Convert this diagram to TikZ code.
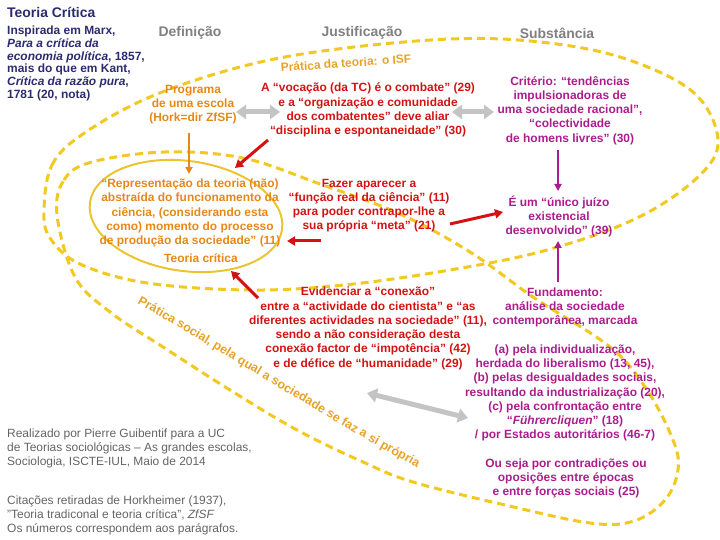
\documentclass[tikz,border=0pt]{standalone}
\usepackage{fontspec}
\setmainfont{Liberation Sans}
\usetikzlibrary{arrows.meta,decorations.text}
\definecolor{navy}{RGB}{43,43,112}
\definecolor{hgray}{RGB}{128,128,128}
\definecolor{orng}{RGB}{230,135,25}
\definecolor{gold}{RGB}{232,162,40}
\definecolor{rd}{RGB}{212,18,18}
\definecolor{mag}{RGB}{172,28,140}
\definecolor{yel}{RGB}{242,200,35}
\definecolor{yelsolid}{RGB}{236,196,50}
\definecolor{lgray}{RGB}{196,196,196}
\definecolor{notegray}{RGB}{100,100,100}
\begin{document}
\begin{tikzpicture}[x=1bp,y=-1bp,
  txt/.style={font=\fontsize{12}{14.3}\selectfont\bfseries, align=center, inner sep=0pt},
  head/.style={font=\fontsize{14}{16}\selectfont\bfseries, text=hgray, inner sep=0pt},
  redtxt/.style={txt, text=rd},
  magtxt/.style={txt, text=mag},
  orgtxt/.style={txt, text=orng},
  goldtxt/.style={txt, text=gold},
  notetxt/.style={font=\fontsize{12}{14}\selectfont, text=notegray, align=left, inner sep=0pt},
  loopline/.style={yel, line width=3bp, dash pattern=on 8bp off 5bp},
  grayarrow/.style={lgray, line width=5bp, {Triangle[length=10bp,width=14bp]}-{Triangle[length=10bp,width=14bp]}},
  redarrow/.style={rd, line width=3bp, -{Triangle[length=8bp,width=9bp]}},
  orgarrow/.style={orng, line width=2bp, -{Triangle[length=7bp,width=7bp]}},
  magarrow/.style={mag, line width=2bp, -{Triangle[length=7bp,width=7bp]}}
]
\useasboundingbox (0,0) rectangle (720,540);

% dashed loops
\draw[loopline] plot[smooth cycle, tension=0.6] coordinates {
  (44,210) (52,165) (83,134) (150,97) (240,67) (330,50) (450,39) (540,42)
  (623,58) (693,92) (718,140) (698,177) (637,218) (547,250) (450,270)
  (344,285) (250,290) (147,283) (80,264) (50,238)};
\draw[loopline] plot[smooth cycle, tension=0.6] coordinates {
  (57,215) (64,180) (92,162) (165,152) (243,158) (320,184) (400,214)
  (470,252) (533,297) (610,347) (647,390) (673,440) (678,470) (665,500)
  (634,521) (590,523) (505,505) (413,482) (363,462) (297,430) (230,390)
  (163,347) (110,312) (75,277)};

% solid ellipse
\draw[yelsolid, line width=2bp, rotate around={-8:(186,216)}] (186,216) ellipse [x radius=97, y radius=55];

% titles and left text
\node[font=\fontsize{14}{16}\selectfont\bfseries, text=navy, anchor=west, inner sep=0pt] (title) at (7,12) {Teoria Crítica};
\node[font=\fontsize{12}{12.7}\selectfont\bfseries, text=navy, anchor=west, align=left, inner sep=0pt] (insp) at (7,63.5)
  {Inspirada em Marx,\\ \textit{Para a crítica da}\\ \textit{economia política}, 1857,\\ mais do que em Kant,\\ \textit{Crítica da razão pura},\\ 1781 (20, nota)};

\node[head] (hdef) at (190,33) {Definição};
\node[head] (hjus) at (362,33) {Justificação};
\node[head] (hsub) at (557,33) {Substância};

\node[goldtxt, rotate=4] (pteo) at (346,63) {Prática da teoria: o ISF};

\node[orgtxt] (prog) at (193,104.5) {Programa\\ de uma escola\\ (Hork=dir ZfSF)};
\node[redtxt] (voc) at (368,110) {A “vocação (da TC) é o combate” (29)\\ e a “organização e comunidade\\ dos combatentes” deve aliar\\ “disciplina e espontaneidade” (30)};
\node[magtxt] (crit) at (570,110.5) {Critério: “tendências\\ impulsionadoras de\\ uma sociedade racional”,\\ “colectividade\\ de homens livres” (30)};

\node[orgtxt] (repr) at (190,213) {“Representação da teoria (não)\\ abstraída do funcionamento da\\ ciência, (considerando esta\\ como) momento do processo\\ de produção da sociedade” (11)};
\node[orgtxt] (tc) at (201,258) {Teoria crítica};
\node[redtxt] (faz) at (369,205.5) {Fazer aparecer a\\ “função real da ciência” (11)\\ para poder contrapor-lhe a\\ sua própria “meta” (21)};
\node[magtxt] (juizo) at (559,216.5) {É um “único juízo\\ existencial\\ desenvolvido” (39)};

\node[redtxt] (evid) at (368,328.5) {Evidenciar a “conexão”\\ entre a “actividade do cientista” e “as\\ diferentes actividades na sociedade” (11),\\ sendo a não consideração desta\\ conexão factor de “impotência” (42)\\ e de défice de “humanidade” (29)};
\node[magtxt] (fund) at (565,364.5) {Fundamento:\\ análise da sociedade\\ contemporânea, marcada\\[14.3bp] (a) pela individualização,\\ herdada do liberalismo (13, 45),\\ (b) pelas desigualdades sociais,\\ resultando da industrialização (20),\\ (c) pela confrontação entre\\ “\textit{Führercliquen}” (18)\\ / por Estados autoritários (46-7)};
\node[magtxt] (ouseja) at (566,478.5) {Ou seja por contradições ou\\ oposições entre épocas\\ e entre forças sociais (25)};

% curved label along the lower loop
\coordinate (ps1) at (135,302);
\coordinate (ps2) at (419,469);
\path[decorate, decoration={text along path, text align=center, text color=gold,
  text format delimiters={|}{|},
  text={|\fontsize{12.5}{14}\selectfont\bfseries|Prática social, pela qual a sociedade se faz a si própria}}]
  (ps1) .. controls (225,353) and (325,418) .. (ps2);

\node[notetxt, anchor=west] (note1) at (7,448) {Realizado por Pierre Guibentif para a UC\\ de Teorias sociológicas – As grandes escolas,\\ Sociologia, ISCTE-IUL, Maio de 2014};
\node[notetxt, anchor=west] (note2) at (7,515) {Citações retiradas de Horkheimer (1937),\\ "Teoria tradiconal e teoria crítica", \textit{ZfSF}\\ Os números correspondem aos parágrafos.};

% arrow end points
\coordinate (g1a) at (236,112); \coordinate (g1b) at (280,112);
\coordinate (g2a) at (452,112); \coordinate (g2b) at (494,112);
\coordinate (g3a) at (367,393); \coordinate (g3b) at (468,418);
\coordinate (o1a) at (189,133); \coordinate (o1b) at (189,174);
\coordinate (r1a) at (268,140); \coordinate (r1b) at (235,168);
\coordinate (r2a) at (321,241); \coordinate (r2b) at (287,241);
\coordinate (r3a) at (450,224); \coordinate (r3b) at (503,212);
\coordinate (r4a) at (258,298); \coordinate (r4b) at (231,271);
\coordinate (m1a) at (558,150); \coordinate (m1b) at (558,191);
\coordinate (m2a) at (558,282); \coordinate (m2b) at (558,241);

\draw[grayarrow] (g1a) -- (g1b);
\draw[grayarrow] (g2a) -- (g2b);
\draw[grayarrow] (g3a) -- (g3b);
\draw[orgarrow] (o1a) -- (o1b);
\draw[redarrow] (r1a) -- (r1b);
\draw[redarrow] (r2a) -- (r2b);
\draw[redarrow] (r3a) -- (r3b);
\draw[redarrow] (r4a) -- (r4b);
\draw[magarrow] (m1a) -- (m1b);
\draw[magarrow] (m2a) -- (m2b);
\end{tikzpicture}
\end{document}
